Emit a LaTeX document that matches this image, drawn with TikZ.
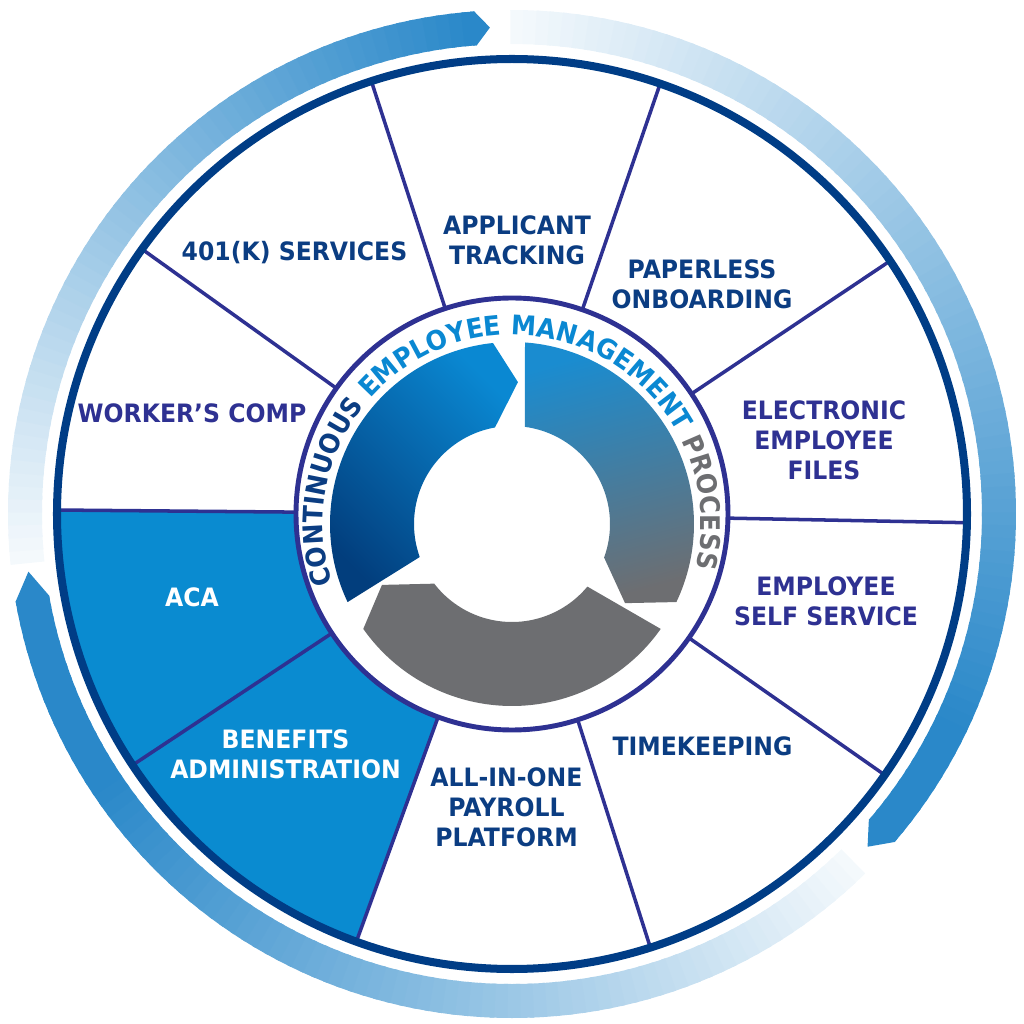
\documentclass[tikz,border=0pt]{standalone}
\usepackage{fontspec}
\setmainfont{DejaVu Sans}[FakeStretch=0.93]
\usetikzlibrary{decorations.text}

\definecolor{wheelnavy}{HTML}{003D86}
\definecolor{spokepurple}{HTML}{2E3192}
\definecolor{segblue}{HTML}{0A8BD0}
\definecolor{labelnavy}{HTML}{0B3D82}
\definecolor{arcblue}{HTML}{2A88C9}
\definecolor{ringbright}{HTML}{0A88D2}
\definecolor{ringdark}{HTML}{023E7D}
\definecolor{ringsky}{HTML}{1A8CD0}
\definecolor{ringgray}{HTML}{6D6E71}

\newcommand\ringfont{\bfseries\fontsize{19.2}{20}\selectfont}

\tikzset{
  spoke/.style={spokepurple, line width=2.5pt},
  seglabel/.style={font=\bfseries\fontsize{18}{21.3}\selectfont, align=center, text=labelnavy, inner sep=0pt},
  seglabelp/.style={seglabel, text=spokepurple},
  seglabelw/.style={seglabel, text=white}
}

\begin{document}
\begin{tikzpicture}[x=0.025cm, y=0.025cm]
\useasboundingbox (-512,-510) rectangle (512,514);

% blue sectors (ACA, benefits)
\fill[segblue] (179.5:216) -- (179.5:455) arc[start angle=179.5, end angle=250, radius=455]
  -- (250:216) arc[start angle=250, end angle=179.5, radius=216] -- cycle;

% spokes
\foreach \ang in {179.5,144.4,108,71,33.8,-1.1,-35,-72.3,-110,-146.5}
  \draw[spoke] (\ang:216) -- (\ang:455);

% rims
\draw[wheelnavy, line width=5.7pt] (0,0) circle[radius=455];
\draw[spokepurple, line width=3.5pt] (0,0) circle[radius=216];

% segment labels
\node[seglabel] (applicant) at (5,274) {APPLICANT\\TRACKING};
\node[seglabel] (paperless) at (190,229.5) {PAPERLESS\\ONBOARDING};
\node[seglabelp] (efiles) at (312,74) {ELECTRONIC\\EMPLOYEE\\FILES};
\node[seglabelp] (selfservice) at (314,-87.5) {EMPLOYEE\\SELF SERVICE};
\node[seglabel] (timekeeping) at (190.5,-232) {TIMEKEEPING};
\node[seglabel] (payroll) at (-5.5,-293) {ALL-IN-ONE\\PAYROLL\\PLATFORM};
\node[seglabelw] (benefits) at (-226.5,-240) {BENEFITS\\ADMINISTRATION};
\node[seglabelw] (aca) at (-320,-83) {ACA};
\node[seglabelp] (workers) at (-320,101) {WORKER’S COMP};
\node[seglabel] (k401) at (-217.5,261) {401(K) SERVICES};

% outer arrow A (left to top)
\foreach \i in {0,...,60}{
  \pgfmathsetmacro\angA{185.8-1.5*\i}
  \pgfmathsetmacro\angB{max(\angA-2,94.3)}
  \pgfmathsetmacro\pct{5+95*\i/60}
  \fill[arcblue!\pct!white] (\angA:470) arc[start angle=\angA, end angle=\angB, radius=470]
    -- (\angB:504) arc[start angle=\angB, end angle=\angA, radius=504] -- cycle;
}
\fill[arcblue] (94.8:470) -- (94.3:470) -- (92.6:487) -- (94.3:504) -- (94.8:504) -- cycle;

% outer arrow B (top to lower right)
\foreach \i in {0,...,86}{
  \pgfmathsetmacro\angA{90.2-1.5*\i}
  \pgfmathsetmacro\angB{max(\angA-2,-40.6)}
  \pgfmathsetmacro\pct{min(100,5+95*(90.2-\angA)/115)}
  \fill[arcblue!\pct!white] (\angA:470) arc[start angle=\angA, end angle=\angB, radius=470]
    -- (\angB:504) arc[start angle=\angB, end angle=\angA, radius=504] -- cycle;
}
\fill[arcblue] (-40.1:470) -- (-40.6:470) -- (-43.1:487) -- (-40.6:504) -- (-40.1:504) -- cycle;

% outer arrow C (lower right to left)
\foreach \i in {0,...,82}{
  \pgfmathsetmacro\angA{-45.5-1.5*\i}
  \pgfmathsetmacro\angB{max(\angA-2,-170)}
  \pgfmathsetmacro\pct{min(100,5+95*(-45.5-\angA)/100)}
  \fill[arcblue!\pct!white] (\angA:470) arc[start angle=\angA, end angle=\angB, radius=470]
    -- (\angB:504) arc[start angle=\angB, end angle=\angA, radius=504] -- cycle;
}
\fill[arcblue] (-169.5:470) -- (-170:470) -- (-173.2:487) -- (-170:504) -- (-169.5:504) -- cycle;

% centre ring
\begin{scope}[shift={(0,-10)}]
  \shade[top color=ringbright, bottom color=ringdark, shading angle=-45]
    (205.4:182) arc[start angle=205.4, end angle=96, radius=182] -- (87.6:142)
    -- (100:98) arc[start angle=100, end angle=199.7, radius=98] -- cycle;
  \shade[top color=ringsky, bottom color=ringgray, shading angle=15]
    (85.9:182) arc[start angle=85.9, end angle=-25.4, radius=182] -- (-35:138)
    -- (-20:98) arc[start angle=-20, end angle=82.5, radius=98] -- cycle;
  \fill[ringgray]
    (-35.2:182) arc[start angle=-35.2, end angle=-144.8, radius=182] -- (-154.9:143.6)
    -- (-142.5:98) arc[start angle=-142.5, end angle=-39.7, radius=98] -- cycle;
  \path[decorate, decoration={text along path, text align=center,
      text={|\ringfont\color{labelnavy}|CONTINUOUS |\ringfont\color{ringbright}|EMPLOYEE MANAGEMENT |\ringfont\color{ringgray}|PROCESS}}]
    (217.5:189) arc[start angle=217.5, end angle=-32.5, radius=189];
\end{scope}

\end{tikzpicture}
\end{document}
